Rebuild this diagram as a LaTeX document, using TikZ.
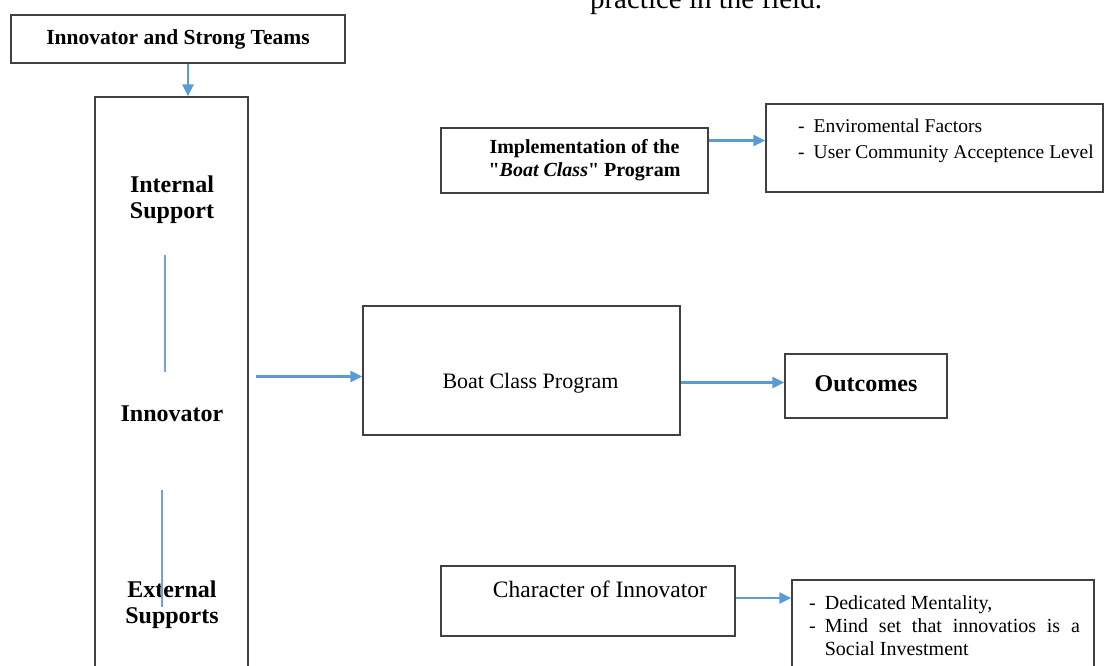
\documentclass[tikz,border=0pt]{standalone}
\usepackage{fontspec}
\setmainfont{Liberation Serif}[Ligatures=TeXOff]
\usepackage{xcolor}
\usetikzlibrary{positioning, arrows.meta, calc}
\definecolor{boxgray}{HTML}{404040}
\definecolor{arrblue}{HTML}{5B9BD5}
\definecolor{linkblue}{HTML}{6FA3DA}
\newcommand{\mainfont}{\fontsize{22}{26}\selectfont}
\newcommand{\headfont}{\fontsize{24}{26}\selectfont\bfseries}
\newcommand{\listfont}{\fontsize{19.5}{26}\selectfont}

\begin{document}
\begin{tikzpicture}[
    x=1pt, y=-1pt,
    box/.style={draw=boxgray, line width=1.3pt, fill=white, inner sep=0pt, align=center},
    head/.style={font=\headfont, align=center, inner sep=0pt},
    arr/.style={-{Triangle[length=12pt, width=11pt]}, draw=arrblue, line width=2.2pt},
    link/.style={draw=linkblue, line width=1.2pt},
]
\useasboundingbox (0,0) rectangle (1105,666);
\clip (0,0) rectangle (1105,666);

\node[anchor=base, font=\fontsize{29}{32}\selectfont, inner sep=0pt] (fieldnote) at (706,9) {practice in the field.};

% left column
\node[box, minimum width=334, minimum height=48, font=\fontsize{21.5}{24}\selectfont\bfseries] (teams) at (178,39) {Innovator and Strong Teams};
\node[box, minimum width=153, minimum height=593] (innov) at (171.5,393.5) {};
\node[head] (intsup) at (172,200) {Internal\\Support};
\node[head] (innovlab) at (172,414) {Innovator};
\node[head] (extsup) at (172,605) {External\\Supports};
\coordinate (linkatop) at (165,255);
\coordinate (linkabot) at (165,372);
\coordinate (linkbtop) at (162,490);
\coordinate (linkbbot) at (162,607);
\draw[link] (linkatop) -- (linkabot);
\draw[link] (linkbtop) -- (linkbbot);

% middle column
\node[box, minimum width=317, minimum height=129, font=\mainfont] (boat) at (521.5,370.5) {\raisebox{-18pt}[0pt][0pt]{\hspace*{18pt}Boat Class Program}};
\node[box, minimum width=267, minimum height=65, font=\fontsize{20}{23}\selectfont\bfseries] (impl) at (574.5,160.5) {\raisebox{-3pt}{\begin{tabular}{@{}c@{}}Implementation of the\\"\textit{Boat Class}" Program\end{tabular}}\hspace*{-20pt}};
\node[box, minimum width=294, minimum height=70, font=\fontsize{23.5}{26}\selectfont] (charbox) at (588,601) {\raisebox{4pt}[0pt][0pt]{\hspace*{24pt}Character of Innovator}};

% right column
\node[box, minimum width=162, minimum height=64, font=\headfont] (outcomes) at (866,386) {\raisebox{4pt}{Outcomes}};
\node[box, minimum width=337, minimum height=88] (envbox) at (934.5,148) {};
\node[anchor=base west, inner sep=0pt, font=\listfont] (envlist) at (798,132) {%
  \begin{tabular}[t]{@{}l@{\hspace{9pt}}l@{}}
  - & Enviromental Factors\\
  - & User Community Acceptence Level
  \end{tabular}};
\node[box, minimum width=302, minimum height=110] (dedbox) at (943,635) {};
\node[anchor=base west, inner sep=0pt, font=\fontsize{20}{23}\selectfont] (dedlist) at (809,609) {%
  \begin{tabular}[t]{@{}l@{\hspace{9pt}}l@{}}
  - & Dedicated Mentality,\\
  - & \makebox[255pt][s]{Mind set that innovatios is a}\\
    & Social Investment
  \end{tabular}};

% connectors
\coordinate (teamsout) at ($(teams.south)+(10,0)$);
\draw[arr] (teamsout) -- (teamsout |- innov.north);
\coordinate (innovout) at ($(innov.east |- boat.west)+(7,6)$);
\draw[arr] (innovout) -- (innovout -| boat.west);
\coordinate (boatout) at ($(boat.east)+(0,12)$);
\draw[arr] (boatout) -- (boatout -| outcomes.west);
\coordinate (implout) at ($(impl.east)+(0,-20)$);
\draw[arr] (implout) -- (implout -| envbox.west);
\coordinate (charout) at ($(charbox.east)+(0,-3)$);
\draw[arr] (charout) -- (charout -| dedbox.west);
\end{tikzpicture}
\end{document}
